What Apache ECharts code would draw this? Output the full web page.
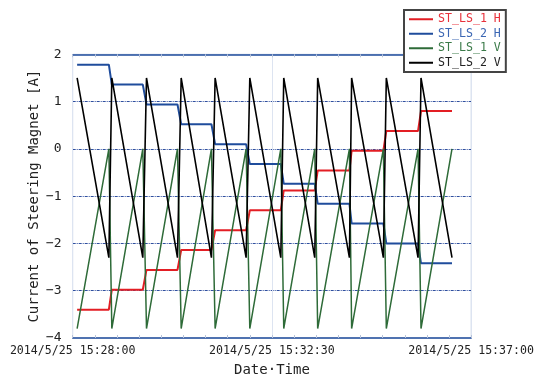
<!DOCTYPE html>
<html><head><meta charset="utf-8">
<script src="https://cdn.jsdelivr.net/npm/echarts@6/dist/echarts.min.js"></script>
<style>html,body{margin:0;padding:0;background:#fff}#c{width:537px;height:382px}</style>
</head><body><div id="c"></div>
<script>
// ---- data ----
const dateLabel = '2014/5/25';
const axisStart = '15:28:00';
const axisEnd = '15:37:00';
const xLabelStepSec = 270;
const xMinorSplit = 9;
const yMin = -4, yMax = 2, yStep = 1;

const seriesNames = ['ST_LS_1 H', 'ST_LS_2 H', 'ST_LS_1 V', 'ST_LS_2 V'];

const cycleStart = ['15:28:06','15:28:53','15:29:40','15:30:27','15:31:13','15:32:00','15:32:46','15:33:32','15:34:18','15:35:05','15:35:52'];
const cycleEnd   = ['15:28:49','15:29:35','15:30:22','15:31:08','15:31:55','15:32:42','15:33:28','15:34:15','15:35:01','15:35:48','15:36:34'];

const ls1H = [-3.40,-2.98,-2.56,-2.14,-1.72,-1.30,-0.88,-0.46,-0.04,0.38,0.80];
const ls2H = [1.78,1.36,0.94,0.52,0.10,-0.32,-0.74,-1.16,-1.58,-2.00,-2.42];

const ls1VStart = [-3.8,-3.8,-3.8,-3.8,-3.8,-3.8,-3.8,-3.8,-3.8,-3.8,-3.8];
const ls1VEnd   = [0,0,0,0,0,0,0,0,0,0,0];
const ls2VStart = [1.5,1.5,1.5,1.5,1.5,1.5,1.5,1.5,1.5,1.5,1.5];
const ls2VEnd   = [-2.3,-2.3,-2.3,-2.3,-2.3,-2.3,-2.3,-2.3,-2.3,-2.3,-2.3];

// ---- helpers ----
function toSec(t){const p=t.split(':').map(Number);return p[0]*3600+p[1]*60+p[2];}
const base = toSec(axisStart);
const span = toSec(axisEnd) - base;
function rel(t){return toSec(t)-base;}
function fmt(sec){
  const t = base + Math.round(sec);
  const h = Math.floor(t/3600), m = Math.floor((t%3600)/60), s = t%60;
  const p = n => String(n).padStart(2,'0');
  return dateLabel + ' ' + h + ':' + p(m) + ':' + p(s);
}
function build(startVals, endVals){
  const out=[];
  for(let i=0;i<cycleStart.length;i++){
    out.push([rel(cycleStart[i]), startVals[i]]);
    out.push([rel(cycleEnd[i]), endVals[i]]);
  }
  return out;
}

const mono = "'DejaVu Sans Mono', 'Liberation Mono', monospace";
const colors = ['#e31e24','#1f4c9c','#2e6b38','#000000'];
const legendText = ['#e8303a','#3b66b3','#3a7a48','#222222'];
const widths = [2,2,1.5,1.6];

const chart = echarts.init(document.getElementById('c'), null, {renderer:'canvas'});
const xCommon = {
  type:'value', min:0, max:span, interval:xLabelStepSec,
  axisLine:{show:true, onZero:false, lineStyle:{color:'#1f4c9c', width:1.5}},
  axisTick:{show:true, inside:true, length:3, lineStyle:{color:'#b8c4da'}},
  minorTick:{show:true, splitNumber:xMinorSplit, length:3, lineStyle:{color:'#b8c4da'}},
  splitLine:{show:false}
};
chart.setOption({
  animation:false,
  grid:{left:72.7, right:61.3, top:54.3, bottom:40.3, show:true, borderColor:'#c9d3e6', borderWidth:1},
  legend:{
    orient:'vertical', left:404, top:10, itemGap:0, padding:[2,5,2,5],
    backgroundColor:'#fff', borderColor:'#444', borderWidth:2,
    itemWidth:24, itemHeight:2, icon:'rect',
    textStyle:{fontFamily:mono, fontSize:11.6, lineHeight:14.5},
    data: seriesNames.map((n,i)=>({name:n, textStyle:{color:legendText[i]}}))
  },
  xAxis:[
    Object.assign({}, xCommon, {
      position:'bottom',
      name:'Date\u00B7Time', nameLocation:'middle', nameGap:25, nameMoveOverlap:false,
      nameTextStyle:{fontFamily:mono, fontSize:14, color:'#222'},
      axisLabel:{fontFamily:mono, fontSize:11.6, color:'#222', margin:7, formatter:v=>fmt(v)},
      splitLine:{show:true, lineStyle:{color:'#dde4f1', width:1}}
    }),
    Object.assign({}, xCommon, {position:'top', axisLabel:{show:false}})
  ],
  yAxis:{
    type:'value', min:yMin, max:yMax, interval:yStep,
    name:'Current of Steering Magnet [A]', nameLocation:'middle', nameGap:31, nameMoveOverlap:false,
    nameTextStyle:{fontFamily:mono, fontSize:14, color:'#222'},
    axisLine:{show:false}, axisTick:{show:false},
    axisLabel:{fontFamily:mono, fontSize:13, color:'#222', margin:11,
      formatter:v=>String(v).replace('-','\u2212')},
    splitLine:{show:true, showMinLine:false, showMaxLine:false,
      lineStyle:{color:'#2f4f9f', width:1, type:[3,1,1,1]}}
  },
  series:[
    {name:seriesNames[0], type:'line', data:build(ls1H, ls1H)},
    {name:seriesNames[1], type:'line', data:build(ls2H, ls2H)},
    {name:seriesNames[2], type:'line', data:build(ls1VStart, ls1VEnd)},
    {name:seriesNames[3], type:'line', data:build(ls2VStart, ls2VEnd)}
  ].map((s,i)=>Object.assign(s,{symbol:'none', showSymbol:false, color:colors[i],
     lineStyle:{color:colors[i], width:widths[i]}, xAxisIndex:0}))
});
</script></body></html>
